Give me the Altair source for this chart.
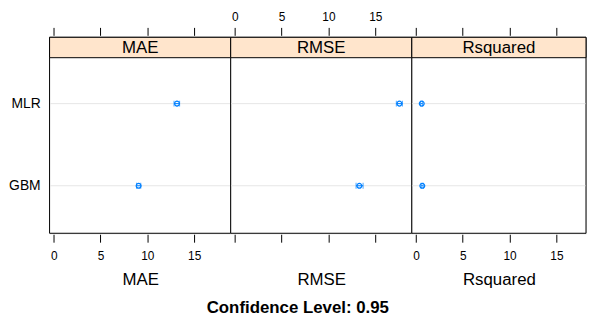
import altair as alt
import pandas as pd

models = ["MLR", "GBM"]
metrics = ["MAE", "RMSE", "Rsquared"]
mae_est = [13.17, 9.07]
mae_lo = [12.85, 8.85]
mae_hi = [13.45, 9.30]
rmse_est = [17.58, 13.30]
rmse_lo = [17.25, 12.95]
rmse_hi = [17.90, 13.70]
rsq_est = [0.62, 0.68]
rsq_lo = [0.50, 0.55]
rsq_hi = [0.72, 0.78]
tick_values = [0, 5, 10, 15]

est_map = {"MAE": (mae_est, mae_lo, mae_hi),
           "RMSE": (rmse_est, rmse_lo, rmse_hi),
           "Rsquared": (rsq_est, rsq_lo, rsq_hi)}

FONT = "Liberation Sans"
BLUE = "#0080ff"
STRIP_H = 20.6
PX_PER_UNIT = 9.46
XMIN = -0.44
H = 198


def panel(metric, width, top_op, bot_op, show_y):
    est, lo, hi = est_map[metric]
    df = pd.DataFrame({"model": models, "est": est, "lo": lo, "hi": hi,
                       "metric": metric})
    xmax = XMIN + width / PX_PER_UNIT
    xs = alt.Scale(domain=[XMIN, xmax], nice=False, zero=False)
    ys = alt.Scale(type="point", domain=models, range=[67, 150], padding=0)
    Y = alt.Y("model:N", scale=ys, axis=None, sort=models)
    base = alt.Chart(df)
    one = base.transform_filter(alt.datum.model == "MLR")
    frame = one.mark_rect(fill="white", stroke="black", strokeWidth=1).encode(
        x=alt.value(0), x2=alt.value(width), y=alt.value(0), y2=alt.value(H))
    strip = one.mark_rect(fill="#ffe5cc", stroke="black", strokeWidth=1).encode(
        x=alt.value(0), x2=alt.value(width), y=alt.value(0), y2=alt.value(STRIP_H))
    strip_text = one.mark_text(
        font=FONT, fontSize=17, color="black", baseline="middle"
    ).encode(x=alt.value(width / 2), y=alt.value(STRIP_H / 2 + 0.5), text="metric:N")
    grid = base.mark_rule(color="#e6e6e6", strokeWidth=1).encode(
        y=Y, x=alt.value(0.5), x2=alt.value(width - 0.5))
    ci = base.mark_rule(color=BLUE, strokeWidth=1).encode(
        x=alt.X("lo:Q", scale=xs, title=metric,
                axis=alt.Axis(orient="bottom", values=tick_values, grid=False,
                              domain=False, tickColor="black", tickSize=8, offset=1,
                              labelFont=FONT, labelFontSize=12, labelColor="black",
                              labelOpacity=bot_op, labelPadding=9,
                              titleFont=FONT, titleFontSize=17, titleFontWeight="normal",
                              titleColor="black", titlePadding=10)),
        x2="hi:Q", y=Y)
    cap_lo = base.mark_tick(color=BLUE, size=6, thickness=1, orient="vertical").encode(
        x=alt.X("lo:Q", scale=xs, axis=None), y=Y)
    cap_hi = base.mark_tick(color=BLUE, size=6, thickness=1, orient="vertical").encode(
        x=alt.X("hi:Q", scale=xs, axis=None), y=Y)
    pt = base.mark_point(color=BLUE, shape="circle", size=24, filled=False,
                         strokeWidth=1.2, opacity=1).encode(
        x=alt.X("est:Q", scale=xs,
                axis=alt.Axis(orient="top", values=tick_values, grid=False,
                              domain=False, tickColor="black", tickSize=8, offset=2,
                              labelFont=FONT, labelFontSize=12, labelColor="black",
                              labelOpacity=top_op, labelPadding=4, title=None)),
        y=Y)
    layers = [frame, strip, grid, ci, cap_lo, cap_hi, pt, strip_text]
    if show_y:
        ylab = base.mark_text(font=FONT, fontSize=14, color="black", align="right",
                              baseline="middle").encode(
            x=alt.value(-9), y=Y, text="model:N")
        layers.append(ylab)
    return alt.layer(*layers).resolve_axis(x="independent").properties(
        width=width, height=H)


p1 = panel("MAE", 183, 0, 1, True)
p2 = panel("RMSE", 183, 1, 0, False)
p3 = panel("Rsquared", 176, 0, 1, False)

chart = alt.hconcat(p1, p2, p3, spacing=0, bounds="flush").properties(
    padding=0,
    title=alt.TitleParams("Confidence Level: 0.95", orient="bottom", anchor="middle",
                          font=FONT, fontSize=17, fontWeight="bold", color="black",
                          offset=12)
).configure_view(stroke=None).configure(background="white")

chart.save("out.html", embed_options={"renderer": "svg", "actions": False})
